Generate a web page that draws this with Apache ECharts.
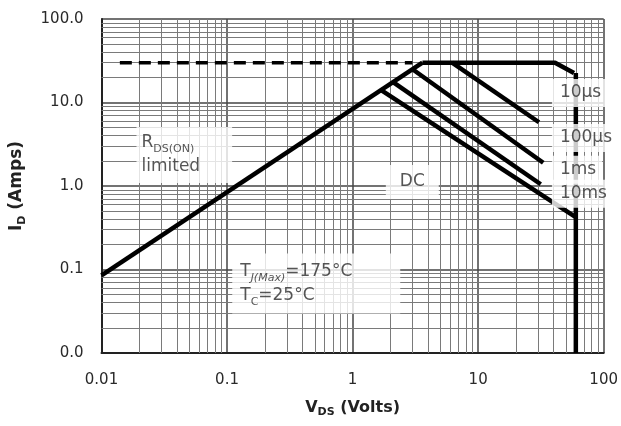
<!DOCTYPE html>
<html>
<head>
<meta charset="utf-8">
<script src="https://cdn.jsdelivr.net/npm/echarts@6/dist/echarts.min.js"></script>
<style>
  html, body { margin: 0; padding: 0; background: #fff; }
  #chart { width: 621px; height: 426px; }
</style>
</head>
<body>
<div id="chart"></div>
<script>
// axis decades and tick text
const decadesX = [0.01, 0.1, 1, 10, 100];
const decadesY = [0.01, 0.1, 1, 10, 100];
const xTickText = ['0.01', '0.1', '1', '10', '100'];
const yTickText = ['0.0', '0.1', '1.0', '10.0', '100.0'];
const minorSteps = [2, 3, 4, 5, 6, 7, 8, 9];

// SOA curves, [V_DS, I_D]
const rdsLimited = [[0.01, 0.085], [3.6, 30]];
const currentLimit = [[0.014, 30], [3.0, 30]];
const pulse10us = [[3.6, 30], [41, 30], [58, 22.5]];
const pulse100us = [[6.2, 30], [30.5, 5.8]];
const pulse1ms = [[3.0, 25], [33, 1.9]];
const pulse10ms = [[2.1, 17.5], [31.5, 1.05]];
const dcLine = [[1.7, 14], [59, 0.43]];
const breakdown = [[60, 22.5], [60, 0.01]];

// annotation anchors [V_DS, I_D]
const rdsNoteAt = [0.019, 2.35];
const tempNoteAt = [0.11, 0.068];
const dcNoteAt = [2.99, 1.12];
const pulseNames = ['10µs', '100µs', '1ms', '10ms'];
const pulseNoteAt = [[38.7, 13.0], [38.7, 3.76], [38.7, 1.56], [38.7, 0.81]];

const FONT = 'DejaVu Sans';
const NOTE = '#2a2a2a';

const minorX = [], minorY = [];
decadesX.slice(0, -1).forEach(d => minorSteps.forEach(m => minorX.push(+(d * m).toPrecision(3))));
decadesY.slice(0, -1).forEach(d => minorSteps.forEach(m => minorY.push(+(d * m).toPrecision(3))));

function tickIndex(v) { return Math.round(Math.log10(v)) + 2; }

const noteRich = {
  m: { fontFamily: FONT, fontSize: 17, color: NOTE, lineHeight: 24 },
  s: { fontFamily: FONT, fontSize: 11, color: NOTE, lineHeight: 24, verticalAlign: 'bottom' },
  si: { fontFamily: FONT, fontSize: 11, color: NOTE, lineHeight: 24, verticalAlign: 'bottom', fontStyle: 'italic' }
};

function curve(data, extra) {
  return Object.assign({
    type: 'line',
    data: data,
    symbol: 'none',
    z: 5,
    silent: true,
    lineStyle: { color: '#000', width: 4.5 }
  }, extra || {});
}

function note(at, text, align, padding) {
  return {
    value: at,
    label: {
      show: true,
      position: 'inside',
      align: align,
      verticalAlign: 'middle',
      formatter: text,
      backgroundColor: '#fff',
      padding: padding,
      rich: noteRich
    }
  };
}

const chart = echarts.init(document.getElementById('chart'));

chart.setOption({
  animation: false,
  backgroundColor: '#fff',
  grid: { left: 100, right: 17, top: 19, bottom: 73 },
  xAxis: {
    type: 'log',
    logBase: 10,
    min: 0.01,
    max: 100,
    name: '{b|V}{bs|DS}{b| (Volts)}',
    nameLocation: 'middle',
    nameGap: 45,
    nameTextStyle: {
      rich: {
        b: { fontFamily: FONT, fontSize: 16, fontWeight: 'bold', color: '#222', lineHeight: 20 },
        bs: { fontFamily: FONT, fontSize: 11, fontWeight: 'bold', color: '#222', lineHeight: 20, verticalAlign: 'bottom' }
      }
    },
    axisLine: { show: true, onZero: false, lineStyle: { color: '#222', width: 2 } },
    axisTick: { show: false },
    axisLabel: {
      margin: 20,
      fontFamily: FONT,
      fontSize: 15,
      color: '#2a2a2a',
      formatter: v => xTickText[tickIndex(v)]
    },
    splitLine: { show: true, lineStyle: { color: '#444', width: 1.5 } }
  },
  yAxis: {
    type: 'log',
    logBase: 10,
    min: 0.01,
    max: 100,
    name: '{b|I}{bs|D}{b| (Amps)}',
    nameLocation: 'middle',
    nameRotate: 90,
    nameGap: 74,
    nameTextStyle: {
      rich: {
        b: { fontFamily: FONT, fontSize: 17, fontWeight: 'bold', color: '#222', lineHeight: 22 },
        bs: { fontFamily: FONT, fontSize: 11, fontWeight: 'bold', color: '#222', lineHeight: 22, verticalAlign: 'bottom' }
      }
    },
    axisLine: { show: true, onZero: false, lineStyle: { color: '#222', width: 2 } },
    axisTick: { show: false },
    axisLabel: {
      margin: 18,
      fontFamily: FONT,
      fontSize: 15,
      color: '#2a2a2a',
      formatter: v => yTickText[tickIndex(v)]
    },
    splitLine: { show: true, lineStyle: { color: '#444', width: 1.5 } }
  },
  series: [
    {
      type: 'line',
      data: [],
      z: 1,
      silent: true,
      markLine: {
        silent: true,
        symbol: 'none',
        animation: false,
        label: { show: false },
        lineStyle: { color: '#7a7a7a', width: 1, type: 'solid' },
        emphasis: { disabled: true },
        data: minorX.map(v => ({ xAxis: v })).concat(minorY.map(v => ({ yAxis: v })))
      }
    },
    curve(rdsLimited),
    curve(currentLimit, { lineStyle: { color: '#000', width: 3.5, type: [12, 7] } }),
    curve(pulse10us),
    curve(pulse100us),
    curve(pulse1ms),
    curve(pulse10ms),
    curve(dcLine),
    curve(breakdown),
    {
      type: 'scatter',
      symbolSize: 0,
      z: 10,
      silent: true,
      data: [
        note(rdsNoteAt, '{m|R}{s|DS(ON)}\n{m|limited}', 'left', [4, 32, 4, 5]),
        note(tempNoteAt, '{m|T}{si|J(Max)}{m|=175°C}\n{m|T}{s|C}{m|=25°C}', 'left', [6, 48, 6, 8]),
        note(dcNoteAt, '{m|DC}', 'center', [5, 14, 5, 14])
      ].concat(pulseNames.map((n, i) => note(pulseNoteAt[i], '{m|' + n + '}', 'left', [2, 6, 2, 8])))
    }
  ]
});
</script>
</body>
</html>
